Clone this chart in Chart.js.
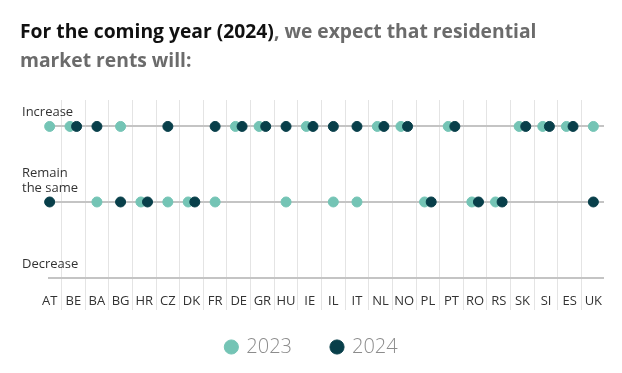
<!DOCTYPE html>
<html>
<head>
<meta charset="utf-8">
<title>Residential market rents outlook</title>
<script src="https://cdn.jsdelivr.net/npm/chart.js@4/dist/chart.umd.min.js"></script>
<style>
  html, body { margin: 0; padding: 0; background: #fff; }
  #wrap { position: relative; width: 622px; height: 373px; }
  #wrap canvas { position: absolute; left: 0; top: 0; }
  #title {
    position: absolute; left: 20px; top: 16px;
    font: 700 19.3px/29px "Open Sans", sans-serif;
    color: #6b6b6b;
  }
  #title .lead { color: #111; }
</style>
</head>
<body>
<div id="wrap">
  <canvas id="rents" width="622" height="373"></canvas>
  <div id="title"><span class="lead">For the coming year (2024)</span>, we expect that residential<br>market rents will:</div>
</div>
<script>
// countries along the x axis
const countries = ["AT", "BE", "BA", "BG", "HR", "CZ", "DK", "FR", "DE", "GR", "HU", "IE",
                   "IL", "IT", "NL", "NO", "PL", "PT", "RO", "RS", "SK", "SI", "ES", "UK"];

// answer levels, bottom to top
const levels = ["Decrease", "Remain the same", "Increase"];
const levelLines = [["Decrease"], ["Remain", "the same"], ["Increase"]];

// expected rent change per country
const answers2023 = ["Increase", "Increase", "Remain the same", "Increase", "Remain the same", "Remain the same",
                     "Remain the same", "Remain the same", "Increase", "Increase", "Remain the same", "Increase",
                     "Remain the same", "Remain the same", "Increase", "Increase", "Remain the same", "Increase",
                     "Remain the same", "Remain the same", "Increase", "Increase", "Increase", "Increase"];
const answers2024 = ["Remain the same", "Increase", "Increase", "Remain the same", "Remain the same", "Increase",
                     "Remain the same", "Increase", "Increase", "Increase", "Increase", "Increase",
                     "Increase", "Increase", "Increase", "Increase", "Remain the same", "Increase",
                     "Remain the same", "Remain the same", "Increase", "Increase", "Increase", "Remain the same"];

const TEAL = "#74c4b5";
const DARK = "#083f4a";
const PAIR_SHIFT = 0.14; // nudge when both years sit on the same row

function toPoints(own, other, shift) {
  return own.map((answer, i) => ({
    x: i + (answer === other[i] ? shift : 0),
    y: levels.indexOf(answer)
  }));
}

const rowLabels = {
  id: "rowLabels",
  afterDraw(chart) {
    const { ctx, scales: { y } } = chart;
    ctx.save();
    ctx.font = '13px "Open Sans", sans-serif';
    ctx.fillStyle = "#333";
    ctx.textAlign = "left";
    ctx.textBaseline = "alphabetic";
    levelLines.forEach((lines, level) => {
      const base = y.getPixelForValue(level) - 10;
      lines.forEach((line, k) => {
        ctx.fillText(line, 22, base - (lines.length - 1 - k) * 15);
      });
    });
    ctx.restore();
  }
};

const ctx = document.getElementById("rents").getContext("2d");
new Chart(ctx, {
  type: "scatter",
  data: {
    datasets: [
      {
        label: "2023",
        data: toPoints(answers2023, answers2024, -PAIR_SHIFT),
        backgroundColor: TEAL,
        borderColor: TEAL,
        pointRadius: 5,
        pointHoverRadius: 5,
        clip: false,
        order: 2
      },
      {
        label: "2024",
        data: toPoints(answers2024, answers2023, PAIR_SHIFT),
        backgroundColor: DARK,
        borderColor: DARK,
        pointRadius: 5,
        pointHoverRadius: 5,
        clip: false,
        order: 1
      }
    ]
  },
  options: {
    responsive: false,
    animation: false,
    layout: { padding: { top: 100, left: 20, right: 18, bottom: 6 } },
    scales: {
      x: {
        type: "linear",
        position: { y: 0 },
        min: -0.07,
        max: 23.45,
        afterBuildTicks(scale) {
          const ticks = [];
          countries.forEach((c, i) => {
            ticks.push({ value: i });
            if (i < countries.length - 1) ticks.push({ value: i + 0.5 });
          });
          scale.ticks = ticks;
        },
        grid: {
          color: (c) => Number.isInteger(c.tick.value) ? "rgba(0,0,0,0)" : "#e4e4e4",
          lineWidth: 1,
          tickLength: 32
        },
        border: { display: false },
        ticks: {
          autoSkip: false,
          maxRotation: 0,
          padding: -16.3,
          color: "#333",
          font: { family: "Open Sans", size: 13 },
          callback: (v) => Number.isInteger(v) ? countries[v] : ""
        }
      },
      y: {
        min: -0.258,
        max: 2.35,
        afterBuildTicks(scale) {
          scale.ticks = levels.map((_, i) => ({ value: i }));
        },
        afterFit(scale) {
          scale.width = 28;
        },
        grid: { color: "#c4c4c4", lineWidth: 2, drawTicks: false },
        border: { display: false },
        ticks: { display: false }
      }
    },
    plugins: {
      tooltip: { enabled: false },
      legend: {
        position: "bottom",
        labels: {
          usePointStyle: true,
          pointStyle: "circle",
          boxWidth: 10,
          boxHeight: 10,
          padding: 40,
          color: "#8c8c8c",
          font: { family: "Open Sans", size: 20, weight: "300" },
          sort: (a, b) => a.datasetIndex - b.datasetIndex
        }
      }
    }
  },
  plugins: [rowLabels]
});
</script>
</body>
</html>
